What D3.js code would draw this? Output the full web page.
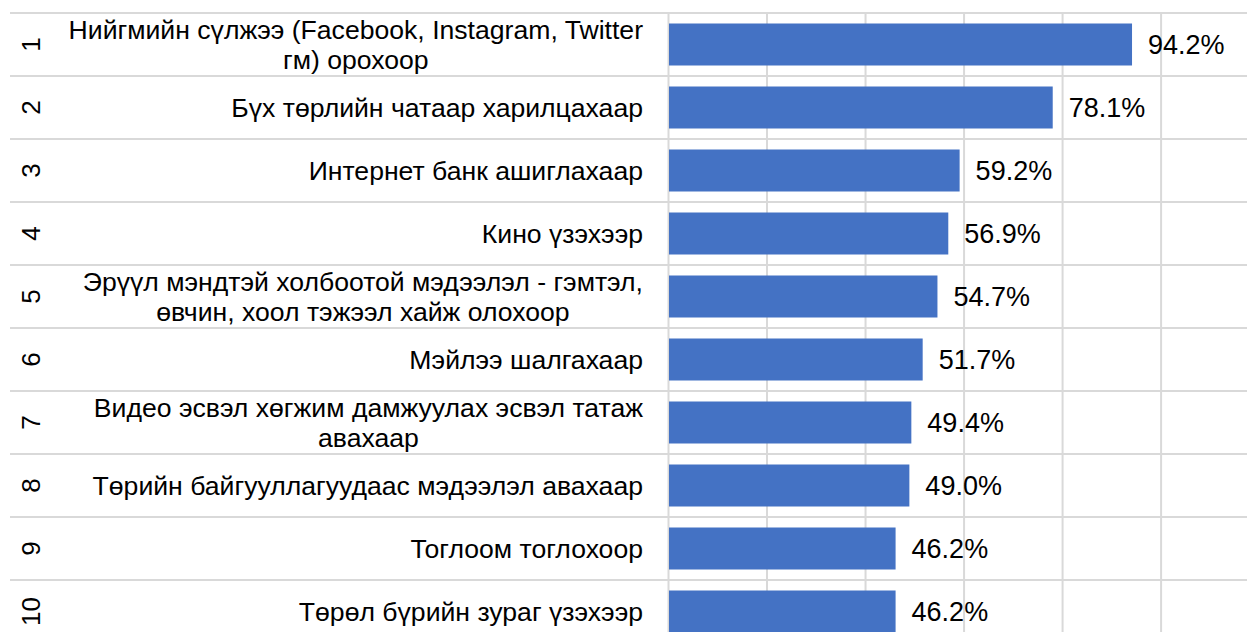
<!DOCTYPE html>
<html>
<head>
<meta charset="utf-8">
<script src="https://cdn.jsdelivr.net/npm/d3@7"></script>
<style>
  html, body { margin: 0; padding: 0; background: #fff; }
  svg { display: block; font-family: "Liberation Sans", Arial, sans-serif; }
</style>
</head>
<body>
<svg width="1247" height="632"></svg>
<script>
// Chart data
var ranks = ['1', '2', '3', '4', '5', '6', '7', '8', '9', '10'];
var categories = [
    'Нийгмийн сүлжээ (Facebook, Instagram, Twitter\nгм) орохоор',
    'Бүх төрлийн чатаар харилцахаар',
    'Интернет банк ашиглахаар',
    'Кино үзэхээр',
    'Эрүүл мэндтэй холбоотой мэдээлэл - гэмтэл,\nөвчин, хоол тэжээл хайж олохоор',
    'Мэйлээ шалгахаар',
    'Видео эсвэл хөгжим дамжуулах эсвэл татаж\nавахаар',
    'Төрийн байгууллагуудаас мэдээлэл авахаар',
    'Тоглоом тоглохоор',
    'Төрөл бүрийн зураг үзэхээр'
];
var values = [94.2, 78.1, 59.2, 56.9, 54.7, 51.7, 49.4, 49.0, 46.2, 46.2];
var xTicks = [0, 20, 40, 60, 80, 100, 120];

var rows = ranks.map(function(r, i) {
    return {rank: r, label: categories[i], value: values[i]};
});

var svg = d3.select('svg');
var svgWidth = +svg.attr('width');

// Layout
var plotLeft = 668;
var plotTop = 13;
var rowStep = 63;
var pxPerUnit = 4.926;
var labelRight = 643;

var xScale = d3.scaleLinear()
    .domain([0, 120])
    .range([plotLeft, plotLeft + 120 * pxPerUnit]);

var yScale = d3.scaleBand()
    .domain(ranks)
    .range([plotTop, plotTop + rowStep * ranks.length])
    .padding(0);

var gridColor = '#d9d9d9';

// Vertical gridlines
var xAxis = d3.axisBottom(xScale)
    .tickValues(xTicks)
    .tickSize(yScale.range()[1] - plotTop)
    .tickFormat('');

var gx = svg.append('g')
    .attr('class', 'x-grid')
    .attr('transform', 'translate(0,' + plotTop + ')')
    .call(xAxis);
gx.select('.domain').remove();
gx.selectAll('.tick line')
    .attr('stroke', gridColor)
    .attr('stroke-width', 2);

// Horizontal row separators
var rowLines = ranks.map(function(r) { return yScale(r); });
rowLines.push(yScale.range()[1]);
svg.append('g')
    .selectAll('line')
    .data(rowLines)
    .enter()
    .append('line')
    .attr('x1', 10)
    .attr('x2', svgWidth)
    .attr('y1', function(d) { return d; })
    .attr('y2', function(d) { return d; })
    .attr('stroke', gridColor)
    .attr('stroke-width', 2);

// Bars
var barH = yScale.bandwidth() * 2 / 3;
svg.append('g')
    .selectAll('rect')
    .data(rows)
    .enter()
    .append('rect')
    .attr('x', xScale(0) + 1)
    .attr('y', function(d) { return yScale(d.rank) + (yScale.bandwidth() - barH) / 2; })
    .attr('width', function(d) { return xScale(d.value) - xScale(0) - 1; })
    .attr('height', barH)
    .attr('fill', '#4472c4');

// Value labels
svg.append('g')
    .selectAll('text')
    .data(rows)
    .enter()
    .append('text')
    .attr('x', function(d) { return xScale(d.value) + 16; })
    .attr('y', function(d) { return yScale(d.rank) + yScale.bandwidth() / 2; })
    .attr('dy', '0.35em')
    .style('font-size', '27px')
    .attr('fill', '#000')
    .text(function(d) { return d.value.toFixed(1) + '%'; });

// Category labels: block right aligned, wrapped lines centred inside the block
var lineH = 30;
var catG = svg.append('g')
    .selectAll('text')
    .data(rows)
    .enter()
    .append('text')
    .attr('text-anchor', 'middle')
    .style('font-size', '26.6px')
    .attr('fill', '#000');

catG.each(function(d) {
    var lines = d.label.split('\n');
    var cy = yScale(d.rank) + yScale.bandwidth() / 2;
    var first = cy - (lines.length - 1) * lineH / 2;
    var t = d3.select(this);
    var spans = lines.map(function(line, i) {
        return t.append('tspan')
            .attr('y', first + i * lineH)
            .attr('dy', '0.35em')
            .text(line);
    });
    var maxW = d3.max(spans, function(s) { return s.node().getComputedTextLength(); });
    spans.forEach(function(s) { s.attr('x', labelRight - maxW / 2); });
});

// Rank numbers, rotated
svg.append('g')
    .selectAll('text')
    .data(rows)
    .enter()
    .append('text')
    .attr('text-anchor', 'middle')
    .attr('dy', '0.35em')
    .attr('transform', function(d) {
        return 'translate(31,' + (yScale(d.rank) + yScale.bandwidth() / 2) + ') rotate(-90)';
    })
    .style('font-size', '26px')
    .attr('fill', '#000')
    .text(function(d) { return d.rank; });
</script>
</body>
</html>
